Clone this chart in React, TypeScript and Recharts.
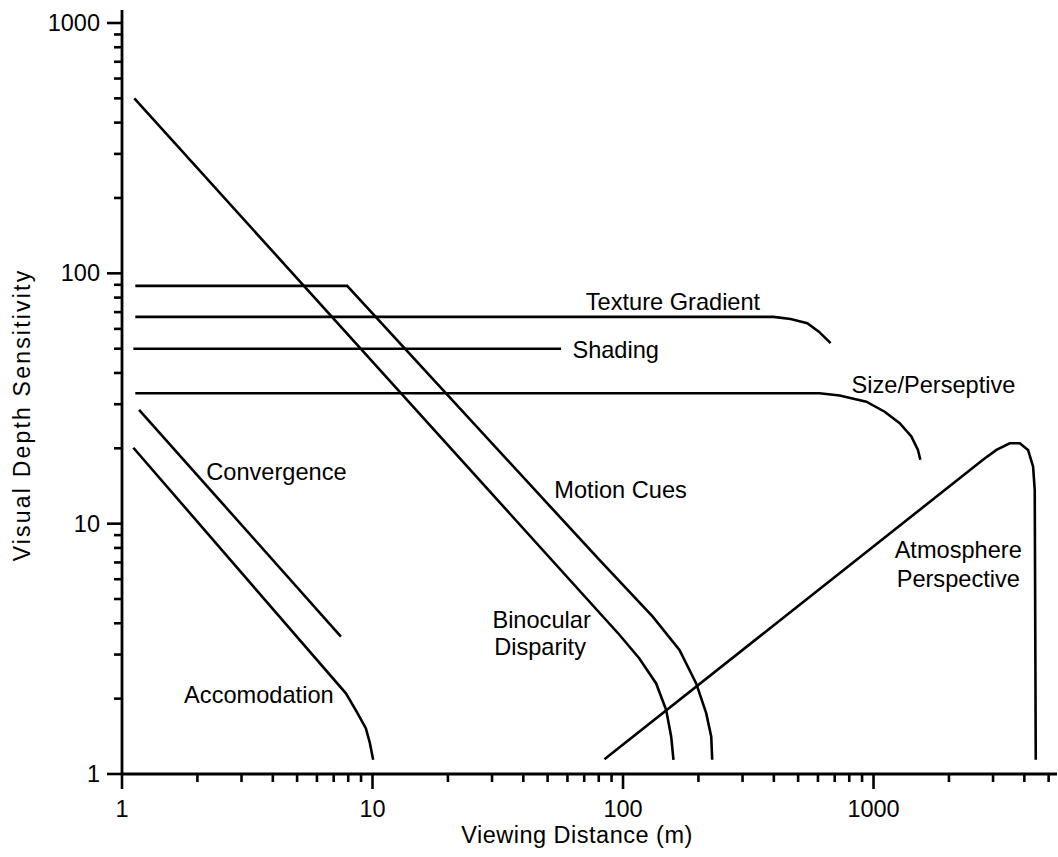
import { LineChart, Line, XAxis, YAxis, ReferenceDot } from "recharts";

// log-axis ticks (only decades get a label)
const xTicks = [
  1, 2, 3, 4, 5, 6, 7, 8, 9, 10, 20, 30, 40, 50, 60, 70, 80, 90, 100, 200, 300, 400, 500, 600, 700, 800, 900,
  1000, 2000, 3000, 4000, 5000,
];
const yTicks = [
  1, 2, 3, 4, 5, 6, 7, 8, 9, 10, 20, 30, 40, 50, 60, 70, 80, 90, 100, 200, 300, 400, 500, 600, 700, 800, 900, 1000,
];
const majorTicks = [1, 10, 100, 1000];

const accomodation = [
  { x: 1.11, y: 20.1 },
  { x: 7.83, y: 2.1 },
  { x: 8.71, y: 1.75 },
  { x: 9.41, y: 1.52 },
  { x: 9.76, y: 1.33 },
  { x: 10.06, y: 1.14 },
];

const convergence = [
  { x: 1.17, y: 28.5 },
  { x: 7.48, y: 3.54 },
];

const binocular = [
  { x: 1.12, y: 500 },
  { x: 96.7, y: 3.6 },
  { x: 116, y: 2.9 },
  { x: 135.6, y: 2.3 },
  { x: 148.7, y: 1.8 },
  { x: 155.7, y: 1.41 },
  { x: 159, y: 1.14 },
];

const motion = [
  { x: 1.13, y: 89.1 },
  { x: 7.92, y: 89.1 },
  { x: 80.5, y: 7.16 },
  { x: 131.4, y: 4.25 },
  { x: 168, y: 3.13 },
  { x: 195.9, y: 2.3 },
  { x: 214.8, y: 1.75 },
  { x: 225, y: 1.41 },
  { x: 227, y: 1.14 },
];

const texture = [
  { x: 1.13, y: 67 },
  { x: 399, y: 67 },
  { x: 466.6, y: 65.7 },
  { x: 544, y: 63.2 },
  { x: 605, y: 58.5 },
  { x: 674, y: 52.6 },
];

const shading = [
  { x: 1.11, y: 50 },
  { x: 56.6, y: 50 },
];

const sizePerspective = [
  { x: 1.13, y: 33.2 },
  { x: 609, y: 33.2 },
  { x: 732, y: 32.5 },
  { x: 936, y: 30.7 },
  { x: 1108, y: 28 },
  { x: 1272, y: 25.2 },
  { x: 1416, y: 22.3 },
  { x: 1504, y: 19.7 },
  { x: 1538, y: 18 },
];

const atmosphere = [
  { x: 84.3, y: 1.145 },
  { x: 2735, y: 18 },
  { x: 3095, y: 19.7 },
  { x: 3498, y: 20.95 },
  { x: 3834, y: 20.95 },
  { x: 4139, y: 19.7 },
  { x: 4335, y: 16.9 },
  { x: 4401, y: 13.6 },
  { x: 4442, y: 1.14 },
];

const series = [accomodation, convergence, binocular, motion, texture, shading, sizePerspective, atmosphere];

// annotation anchors (left edge / baseline), in data units
const labels = [
  { text: "Texture Gradient", x: 71, y: 71.4 },
  { text: "Shading", x: 62.8, y: 45.9 },
  { text: "Size/Perseptive", x: 817, y: 33.3 },
  { text: "Convergence", x: 2.17, y: 14.9 },
  { text: "Accomodation", x: 1.77, y: 1.92 },
  { text: "Motion Cues", x: 53.2, y: 12.7 },
  { text: "Binocular", x: 30.1, y: 3.83 },
  { text: "Disparity", x: 30.6, y: 2.99 },
  { text: "Atmosphere", x: 1214, y: 7.29 },
  { text: "Perspective", x: 1237, y: 5.59 },
];

const FONT = "'Liberation Sans', Arial, Helvetica, sans-serif";

function XTick({ x, y, payload }: any) {
  const major = majorTicks.includes(payload.value);
  return (
    <g>
      <line x1={x} x2={x} y1={y} y2={y + (major ? 15 : 8)} stroke="#000" strokeWidth={2.6} />
      {major && (
        <text x={x} y={y + 43} textAnchor="middle" fontSize={23.5} fontFamily={FONT} fill="#000">
          {payload.value}
        </text>
      )}
    </g>
  );
}

function YTick({ x, y, payload }: any) {
  const major = majorTicks.includes(payload.value);
  return (
    <g>
      <line x1={x - (major ? 15 : 8)} x2={x} y1={y} y2={y} stroke="#000" strokeWidth={2.6} />
      {major && (
        <text x={x - 22} y={y + 8} textAnchor="end" fontSize={23.5} fontFamily={FONT} fill="#000">
          {payload.value}
        </text>
      )}
    </g>
  );
}

export default function App() {
  return (
    <div style={{ position: "absolute", left: 0, top: 0, background: "#fff" }}>
      <LineChart width={1058} height={857} margin={{ top: 10, right: 1, bottom: 0, left: 0 }}>
        <XAxis
          dataKey="x"
          type="number"
          scale="log"
          domain={[1, 5400]}
          allowDataOverflow
          ticks={xTicks}
          interval={0}
          tickSize={0}
          tickMargin={0}
          tickLine={false}
          tick={<XTick />}
          height={83}
          axisLine={{ stroke: "#000", strokeWidth: 2.8 }}
          label={({ viewBox }: any) => (
            <text
              x={viewBox.x + 455}
              y={viewBox.y + 69}
              textAnchor="middle"
              fontSize={23.5}
              letterSpacing={0.5}
              fontFamily={FONT}
              fill="#000"
            >
              Viewing Distance (m)
            </text>
          )}
        />
        <YAxis
          dataKey="y"
          type="number"
          scale="log"
          domain={[1, 1127]}
          allowDataOverflow
          ticks={yTicks}
          interval={0}
          tickSize={0}
          tickMargin={0}
          tickLine={false}
          tick={<YTick />}
          width={122}
          axisLine={{ stroke: "#000", strokeWidth: 2.8 }}
          label={() => (
            <text
              x={30}
              y={415}
              transform="rotate(-90, 30, 415)"
              textAnchor="middle"
              fontSize={23}
              letterSpacing={2.2}
              fontFamily={FONT}
              fill="#000"
            >
              Visual Depth Sensitivity
            </text>
          )}
        />
        {series.map((d, i) => (
          <Line
            key={i}
            data={d}
            dataKey="y"
            type="linear"
            stroke="#000"
            strokeWidth={2.6}
            dot={false}
            activeDot={false}
            isAnimationActive={false}
          />
        ))}
        {labels.map((l) => (
          <ReferenceDot
            key={l.text}
            x={l.x}
            y={l.y}
            r={0}
            shape={(p: any) => (
              <text x={p.cx} y={p.cy} fontSize={23.6} fontFamily={FONT} fill="#000">
                {l.text}
              </text>
            )}
          />
        ))}
      </LineChart>
    </div>
  );
}
